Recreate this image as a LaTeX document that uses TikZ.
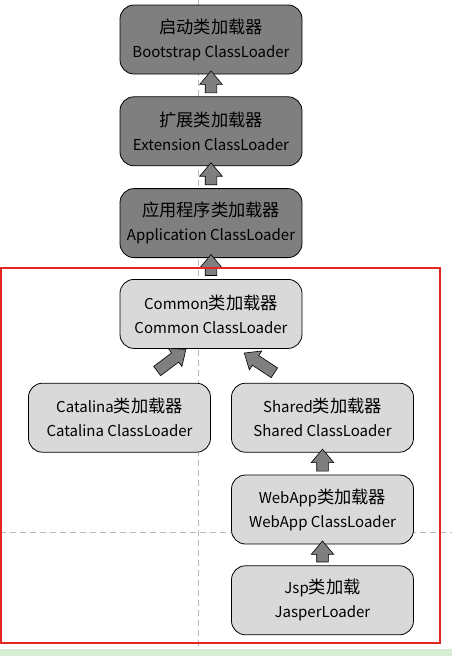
\documentclass[tikz,border=0pt]{standalone}
\usepackage{fontspec}
\setmainfont{Noto Sans CJK SC}
\newfontfamily\cjkbig[Scale=1.15]{Noto Sans CJK SC}
\newcommand{\cn}[1]{{\cjkbig #1}}
\usepackage{xcolor}
\usetikzlibrary{positioning}
\usetikzlibrary{shapes.arrows}
\definecolor{darkbox}{HTML}{7F7F7F}
\definecolor{lightbox}{HTML}{D9D9D9}
\definecolor{frame}{HTML}{E3261F}
\definecolor{band}{HTML}{D5EDD2}
\tikzset{loader/.style={draw,rounded corners=14pt,minimum width=182pt,minimum height=69pt,
                        align=center,line width=0.8pt,font=\fontsize{15}{24}\selectfont},
         sysloader/.style={loader,fill=darkbox},
         tomloader/.style={loader,fill=lightbox},
         blockarrow/.style={single arrow,draw,fill=darkbox,line width=0.6pt,
                            inner xsep=0pt,inner ysep=5.5pt,
                            single arrow head extend=5.5pt,
                            single arrow tip angle=80,sloped,allow upside down},
         guide/.style={gray!55,dashed,dash pattern=on 6pt off 4pt,line width=0.6pt},
         }

\begin{document}
\begin{tikzpicture}[x=1pt,y=1pt]
\useasboundingbox (0,0) rectangle (452,-656);
\fill[band] (0,-649) rectangle (452,-656);
\draw[guide] (198.5,0) -- (198.5,-650);
\draw[guide] (0,-532) -- (452,-532);
% jvm loaders
\node[sysloader] (boot) at (211,-39.5) {\cn{启动类加载器}\\Bootstrap ClassLoader};
\node[sysloader,below=22pt of boot] (ext) {\cn{扩展类加载器}\\Extension ClassLoader};
\node[sysloader,below=22pt of ext] (app) {\cn{应用程序类加载器}\\Application ClassLoader};
% tomcat loaders
\node[tomloader,below=21pt of app] (com) {Common\cn{类加载器}\\Common ClassLoader};
\node[tomloader,below=34pt of com,xshift=-91.5pt] (cat) {Catalina\cn{类加载器}\\Catalina ClassLoader};
\node[tomloader,below=34pt of com,xshift=111.5pt] (shared) {Shared\cn{类加载器}\\Shared ClassLoader};
\node[tomloader,below=22pt of shared] (webapp) {WebApp\cn{类加载器}\\WebApp ClassLoader};
\node[tomloader,below=21pt of webapp] (jsp) {Jsp\cn{类加载}\\JasperLoader};
\path (ext.north) -- (boot.south) node[midway,blockarrow,minimum height=22pt] {};
\path (app.north) -- (ext.south) node[midway,blockarrow,minimum height=22pt] {};
\path (com.north) -- (app.south) node[midway,blockarrow,minimum height=21pt] {};
\path ([xshift=34pt,yshift=9pt]cat.north) -- ([xshift=-27pt,yshift=-2pt]com.south)
    node[midway,blockarrow,minimum height=36pt] {};
\path ([xshift=-45pt,yshift=8pt]shared.north) -- ([xshift=36pt,yshift=-6pt]com.south)
    node[midway,blockarrow,minimum height=36pt] {};
\path (webapp.north) -- (shared.south) node[midway,blockarrow,minimum height=22pt] {};
\path (jsp.north) -- (webapp.south) node[midway,blockarrow,minimum height=21pt] {};
\draw[frame,line width=2pt] (1,-268) rectangle (440,-643);
\end{tikzpicture}
\end{document}
